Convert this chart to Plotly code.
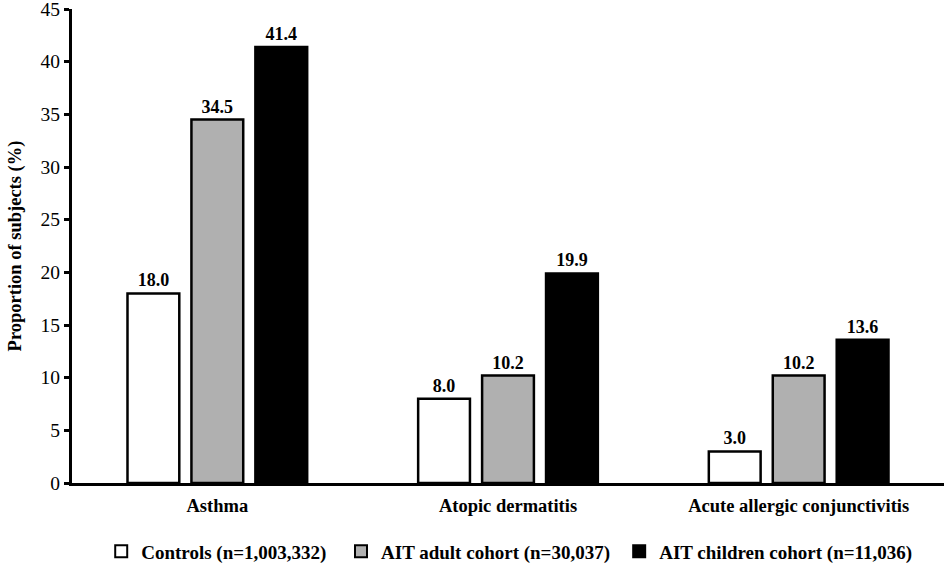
import plotly.graph_objects as go

categories = ["Asthma", "Atopic dermatitis", "Acute allergic conjunctivitis"]
series_names = ["Controls (n=1,003,332)", "AIT adult cohort (n=30,037)", "AIT children cohort (n=11,036)"]
controls = [18.0, 8.0, 3.0]
adult = [34.5, 10.2, 10.2]
children = [41.4, 19.9, 13.6]
colors = ["#ffffff", "#b0b0b0", "#000000"]
y_ticks = [0, 5, 10, 15, 20, 25, 30, 35, 40, 45]

font_family = "Liberation Serif"
legend_ids = ["legend", "legend2", "legend3"]
legend_x = [0.0335, 0.3085, 0.6275]

fig = go.Figure()
for name, vals, col, lid in zip(series_names, [controls, adult, children], colors, legend_ids):
    fig.add_trace(go.Bar(
        x=categories, y=vals, name=f"<b>{name}</b>",
        marker=dict(color=col, line=dict(color="#000000", width=2.5)),
        text=[f"<b>{v:.1f}</b>" for v in vals],
        textposition="outside",
        textfont=dict(family=font_family, size=18, color="#000000"),
        cliponaxis=False,
        legend=lid,
    ))

legend_common = dict(
    orientation="h", xanchor="left", y=-0.104, yanchor="top",
    font=dict(family=font_family, size=19, color="#000000"),
    itemsizing="constant", itemwidth=30, bgcolor="rgba(0,0,0,0)",
)

fig.update_layout(
    width=945, height=564,
    barmode="group", bargap=0.34, bargroupgap=0.19,
    plot_bgcolor="#ffffff", paper_bgcolor="#ffffff",
    margin=dict(l=72, r=1, t=9, b=81, autoexpand=False),
    font=dict(family=font_family, size=18, color="#000000"),
    showlegend=True,
    legend=dict(x=legend_x[0], **legend_common),
    legend2=dict(x=legend_x[1], **legend_common),
    legend3=dict(x=legend_x[2], **legend_common),
    xaxis=dict(
        showline=True, linecolor="#000000", linewidth=3,
        ticks="", automargin=False, ticklabelstandoff=4,
        tickfont=dict(family=font_family, size=18.5, color="#000000"),
        tickprefix="<b>", ticksuffix="</b>",
    ),
    yaxis=dict(
        range=[0, 45], tickvals=y_ticks, automargin=False,
        showline=True, linecolor="#000000", linewidth=3,
        ticks="outside", ticklen=5, tickwidth=3, tickcolor="#000000",
        showgrid=False, zeroline=False, ticklabeloverflow="allow",
        tickfont=dict(family=font_family, size=19.5, color="#000000"),
        tickprefix="<b>", ticksuffix="</b>",
        title=dict(text="<b>Proportion of subjects (%)</b>", font=dict(family=font_family, size=18.5, color="#000000"), standoff=15),
    ),
)

fig.write_html(
    "out.html",
    config={"displayModeBar": False},
    post_script="document.body.style.margin='0';document.body.style.overflow='hidden';",
)
